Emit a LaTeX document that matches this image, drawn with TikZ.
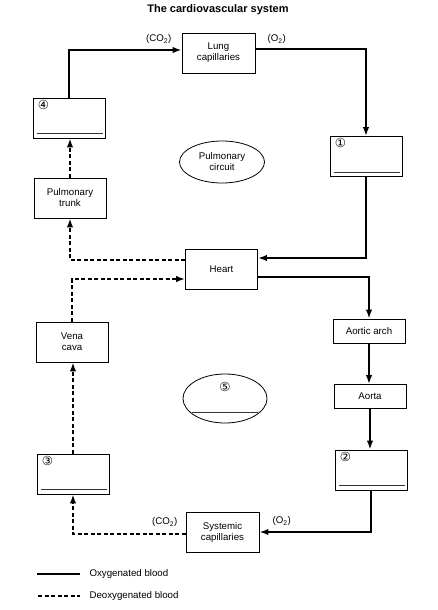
\documentclass[tikz,border=0pt]{standalone}
\usepackage{fontspec}
\setmainfont{Liberation Sans}
\newfontfamily\symfont{DejaVu Sans}
\usetikzlibrary{arrows.meta, positioning, shapes.geometric, calc}

\begin{document}
\begin{tikzpicture}[
  x=1pt, y=-1pt,
  font=\fontsize{9.7}{11}\selectfont,
  organ/.style={rectangle, draw, line width=0.8pt, minimum width=72pt,
              minimum height=40pt, align=center, inner sep=1pt},
  shortorgan/.style={organ, minimum height=24pt},
  region/.style={ellipse, draw, line width=0.8pt, align=center, inner sep=1pt},
  num/.style={font=\symfont\fontsize{12.5}{12.5}\selectfont, inner sep=0pt},
  gas/.style={inner sep=1pt},
  gap/.style={line width=0.8pt, black!80},
  oxy/.style={-{Latex[length=9pt,width=6.5pt]}, line width=1.8pt},
  deoxy/.style={-{Latex[length=9pt,width=6.5pt]}, line width=1.8pt, dash pattern=on 4pt off 2.5pt},
]
\useasboundingbox (0,0) rectangle (437,610);

\node[font=\bfseries\fontsize{11}{12}\selectfont] (title) at (218,10) {The cardiovascular system};

\node[organ, minimum width=73pt] (lung) at (218.5,53) {Lung\\capillaries};
\node[organ] (bx4) at (69,118) {};
\node[organ] (bx1) at (366,156.5) {};
\node[region, minimum width=85pt, minimum height=42pt] (pulm) at (222,162) {Pulmonary\\circuit};
\node[organ] (trunk) at (70,198) {Pulmonary\\trunk};
\node[organ] (heart) at (221.5,269) {Heart};
\node[organ] (vena) at (72,342) {Vena\\cava};
\node[shortorgan] (arch) at (369,331) {Aortic arch};
\node[shortorgan] (aorta) at (370,396.5) {Aorta};
\node[region, minimum width=84pt, minimum height=49pt] (syscirc) at (225,398.5) {};
\node[organ] (bx3) at (73,474) {};
\node[organ] (bx2) at (371,470) {};
\node[organ, minimum width=73pt] (syscap) at (222.5,532) {Systemic\\capillaries};

% numbers to fill in
\node[num, below right=2pt and 5pt of bx1.north west] (n1) {①};
\node[num, below right=2pt and 5pt of bx2.north west] (n2) {②};
\node[num, below right=2pt and 5pt of bx3.north west] (n3) {③};
\node[num, below right=2pt and 5pt of bx4.north west] (n4) {④};
\node[num, below=8pt of syscirc.north] (n5) {⑤};

\foreach \b in {bx1,bx2,bx3,bx4}
  \draw[gap] ([xshift=4pt,yshift=5pt]\b.south west) -- ([xshift=-2pt,yshift=5pt]\b.south east);
\draw[gap] ($(syscirc.center)+(-33,13.5)$) -- ($(syscirc.center)+(33,13.5)$);

% gas labels
\node[gas, above left=8pt and 9pt of lung.west] (co2a) {(CO\textsubscript{2})};
\node[gas, above right=8pt and 11pt of lung.east] (o2a) {(O\textsubscript{2})};
\node[gas, above left=4pt and 7pt of syscap.west] (co2b) {(CO\textsubscript{2})};
\node[gas, above right=5pt and 12pt of syscap.east] (o2b) {(O\textsubscript{2})};

% oxygenated
\draw[oxy] (bx4.north) |- ([yshift=3pt]lung.west);
\draw[oxy] ([yshift=4pt]lung.east) -| (bx1.north);
\draw[oxy] (bx1.south) |- ([yshift=11pt]heart.east);
\draw[oxy] ([yshift=-8pt]heart.east) -| (arch.north);
\draw[oxy] (arch.south) -- (arch.south |- aorta.north);
\draw[oxy] (aorta.south) -- (aorta.south |- bx2.north);
\draw[oxy] (bx2.south) |- (syscap.east);

% deoxygenated
\draw[deoxy] ([yshift=-2pt]syscap.west) -| (bx3.south);
\draw[deoxy] (bx3.north) -- (bx3.north |- vena.south);
\draw[deoxy] (vena.north) |- ([yshift=-10pt]heart.west);
\draw[deoxy] ([yshift=9pt]heart.west) -| (trunk.south);
\draw[deoxy] (trunk.north) -- (trunk.north |- bx4.south);

% legend
\coordinate (oxa) at (37,574);
\coordinate (oxb) at (80,574);
\coordinate (dea) at (38,596);
\coordinate (deb) at (80,596);
\draw[line width=1.8pt] (oxa) -- (oxb);
\draw[line width=1.8pt, dash pattern=on 4pt off 2.5pt] (dea) -- (deb);
\node[right=6pt of oxb] (oxtext) {Oxygenated blood};
\node[right=6pt of deb] (detext) {Deoxygenated blood};

\end{tikzpicture}
\end{document}
